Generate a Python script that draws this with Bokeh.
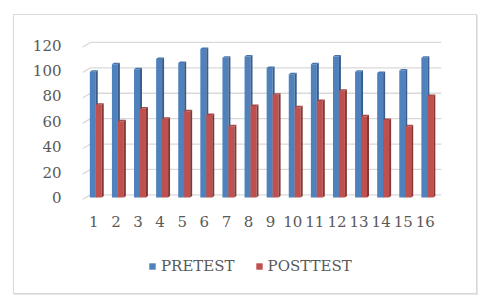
from bokeh.plotting import figure
from bokeh.layouts import column
from bokeh.models import Range1d, Legend, LegendItem, FixedTicker
from bokeh.embed import file_html
from bokeh.resources import INLINE

categories = [str(i) for i in range(1, 17)]
pretest = [99, 105, 101, 109, 106, 117, 110, 111, 102, 97, 105, 111, 99, 98, 100, 110]
posttest = [73, 60, 70, 62, 68, 65, 56, 72, 81, 71, 76, 84, 64, 61, 56, 80]
y_ticks = [0, 20, 40, 60, 80, 100, 120]
series_names = ["PRETEST", "POSTTEST"]
face_colors = ["#4F81BD", "#C0504D"]

FONT = "DejaVu Serif"
TEXT_COLOR = "#595959"

xs = list(range(1, len(categories) + 1))
x_start, x_end = 0.489, 16.73
y_start, y_end = -2.36, 126.8

p = figure(width=462, height=220, output_backend="svg", toolbar_location=None,
           x_range=Range1d(x_start, x_end), y_range=Range1d(y_start, y_end),
           min_border_left=68, min_border_right=35, min_border_top=21, min_border_bottom=35)
p.outline_line_color = None
p.xgrid.visible = False
p.ygrid.visible = False
p.background_fill_color = "white"
p.border_fill_color = "white"

# 3D-like gridlines (floor slant + back wall)
bend = x_start + 0.36
gx = [[x_start, bend, x_end] for _ in y_ticks]
gy = [[v - 1.6, v + 2.1, v + 2.1] for v in y_ticks]
p.multi_line(gx, gy, line_color="#D9D9D9", line_width=1.3)

dx = 0.09   # depth offset (x)
dy = 1.2    # depth offset (y)
fw = 0.27   # face width


def draw_series(values, left_off, face, side, cap):
    lefts = [x + left_off for x in xs]
    rights = [l + fw for l in lefts]
    r = p.vbar(x=[l + fw / 2 for l in lefts], top=values, bottom=0, width=fw,
               fill_color=face, line_color=None)
    side_x = [[rr, rr + dx, rr + dx, rr] for rr in rights]
    side_y = [[0, dy, v + dy, v] for v in values]
    p.patches(side_x, side_y, fill_color=side, line_color=None)
    cap_x = [[l, rr, rr + dx, l + dx] for l, rr in zip(lefts, rights)]
    cap_y = [[v, v, v + dy, v + dy] for v in values]
    p.patches(cap_x, cap_y, fill_color=cap, line_color=None)
    return r


draw_series(pretest, -0.18, face_colors[0], "#385D8A", "#4674AB")
draw_series(posttest, 0.09, face_colors[1], "#843735", "#A94542")

# axes
p.yaxis.ticker = FixedTicker(ticks=y_ticks)
p.yaxis.axis_line_color = None
p.yaxis.major_tick_line_color = None
p.yaxis.minor_tick_line_color = None
p.yaxis.major_label_standoff = 15
p.yaxis.major_label_text_font = FONT
p.yaxis.major_label_text_font_size = "15px"
p.yaxis.major_label_text_color = TEXT_COLOR

p.xaxis.ticker = FixedTicker(ticks=xs)
p.xaxis.major_label_overrides = {x: c for x, c in zip(xs, categories)}
p.xaxis.axis_line_color = None
p.xaxis.major_tick_line_color = None
p.xaxis.minor_tick_line_color = None
p.xaxis.major_label_standoff = 9
p.xaxis.major_label_text_font = FONT
p.xaxis.major_label_text_font_size = "15px"
p.xaxis.major_label_text_color = TEXT_COLOR

# legend strip (frame is aligned with the chart's frame by the column layout)
lg = figure(width=462, height=58, output_backend="svg", toolbar_location=None,
            x_range=Range1d(0, 1), y_range=Range1d(0, 1),
            x_axis_location=None, y_axis_location=None,
            min_border_left=0, min_border_right=0, min_border_top=0, min_border_bottom=0)
lg.grid.visible = False
lg.outline_line_color = None
lg.border_fill_color = "white"
leg_renderers = [lg.vbar(x=[0.5], top=[0], bottom=[0], width=0.01, fill_color=c, line_color=None)
                 for c in face_colors]
legend = Legend(items=[LegendItem(label=n, renderers=[r]) for n, r in zip(series_names, leg_renderers)],
                orientation="horizontal", location=(66, 18))
legend.glyph_width = 8
legend.glyph_height = 8
legend.label_standoff = 5
legend.spacing = 20
legend.padding = 0
legend.margin = 0
legend.border_line_color = None
legend.background_fill_alpha = 0
legend.label_text_font = FONT
legend.label_text_font_size = "15px"
legend.label_text_color = TEXT_COLOR
lg.add_layout(legend, "center")

layout = column(p, lg, spacing=0)
layout.styles = {"border": "1px solid #D9D9D9", "margin-left": "13px", "margin-top": "14px",
                 "box-shadow": "1px 1px 0px #E6E6E6", "background-color": "white"}

open("out.html", "w").write(file_html(layout, INLINE))
